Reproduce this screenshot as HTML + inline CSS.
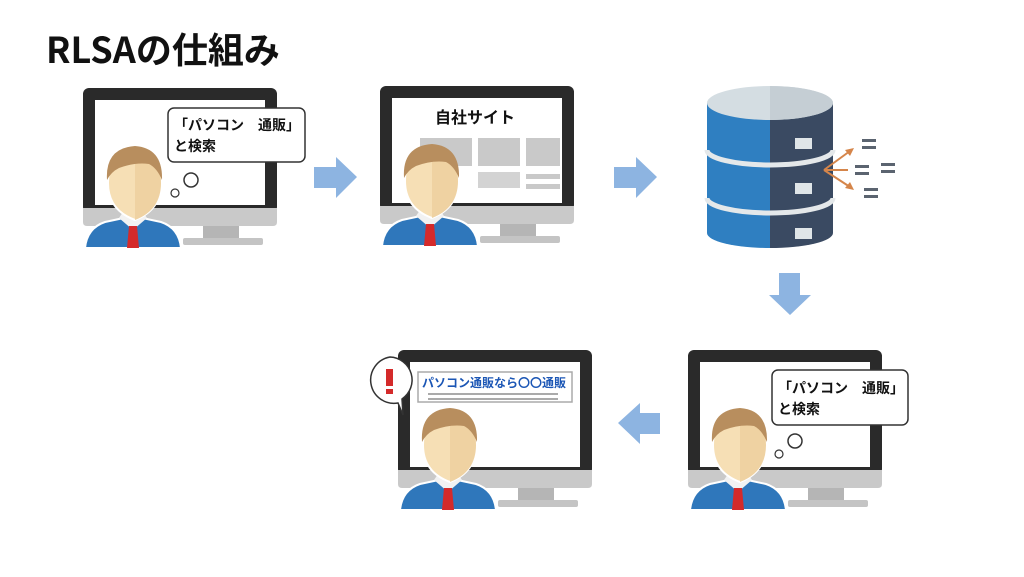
<!DOCTYPE html>
<html><head><meta charset="utf-8"><style>
html,body{margin:0;padding:0;background:#fff;width:1024px;height:577px;overflow:hidden}
svg{display:block}
text{font-family:"Noto Sans CJK JP","Liberation Sans",sans-serif;font-weight:bold}
</style></head><body>
<svg width="1024" height="577" viewBox="0 0 1024 577" xmlns="http://www.w3.org/2000/svg">
<defs>
<g id="mon">
  <rect x="0" y="0" width="194" height="125" rx="6" fill="#2a2a2a"/>
  <rect x="12" y="12" width="170" height="105" fill="#fff"/>
  <path d="M0 120 H194 V134 Q194 138 190 138 H4 Q0 138 0 134 Z" fill="#c9c9c9"/>
  <rect x="120" y="138" width="36" height="12" fill="#b5b5b5"/>
  <rect x="100" y="150" width="80" height="7" rx="2" fill="#c4c4c4"/>
</g>
<g id="person">
  <path d="M2 160 Q4 140 22 134 L50 128 L78 134 Q96 140 98 160 Z" fill="#2f77bb" stroke="#fff" stroke-width="2"/>
  <path d="M36 130 L50 142 L64 130 L60 124 H40 Z" fill="#f2f2f2"/>
  <path d="M46 138 L54 138 L56 160 L44 160 Z" fill="#d42a2a"/>
  <path d="M25 95 Q25 62 52 60 Q78 62 78 95 Q78 122 52 132 Q25 122 25 95 Z" fill="#f6dfb5" stroke="#fff" stroke-width="2"/>
  <path d="M52 132 Q78 122 78 95 Q78 62 52 60 Z" fill="#efd2a2"/>
  <path d="M24 92 Q22 60 52 58 Q80 60 79 92 Q74 80 66 76 Q52 74 36 80 Q28 84 24 92 Z" fill="#b88e5e"/>
</g>
</defs>

<text x="46" y="63" font-size="36" fill="#111">RLSAの仕組み</text>

<!-- panel 1 -->
<g transform="translate(83,88)"><use href="#mon"/></g>
<g transform="translate(83,88)"><use href="#person"/></g>
<rect x="168" y="108" width="137" height="54" rx="6" fill="#fff" stroke="#333" stroke-width="1.5"/>
<text x="174" y="130" font-size="14" fill="#111">「パソコン　通販」</text>
<text x="174" y="151" font-size="14" fill="#111">と検索</text>
<circle cx="191" cy="180" r="7" fill="#fff" stroke="#333" stroke-width="1.5"/>
<circle cx="175" cy="193" r="4" fill="#fff" stroke="#333" stroke-width="1.2"/>

<path d="M314 167 H336 V157 L357 177 L336 198 V188 H314 Z" fill="#8db4e1"/>

<!-- panel 2 -->
<g transform="translate(380,86)"><use href="#mon"/>
  <text x="55" y="37" font-size="16" fill="#111">自社サイト</text>
  <rect x="40" y="52" width="52" height="28" fill="#c9c9c9"/>
  <rect x="98" y="52" width="42" height="28" fill="#c9c9c9"/>
  <rect x="146" y="52" width="34" height="28" fill="#c9c9c9"/>
  <rect x="98" y="86" width="42" height="16" fill="#d3d3d3"/>
  <rect x="146" y="88" width="34" height="5" fill="#c9c9c9"/>
  <rect x="146" y="98" width="34" height="5" fill="#c9c9c9"/>
</g>
<g transform="translate(380,86)"><use href="#person"/></g>

<path d="M614 167 H636 V157 L657 177 L636 198 V188 H614 Z" fill="#8db4e1"/>

<!-- database -->
<g>
  <path d="M707 103 V233 A63 15 0 0 0 770 248 V103 Z" fill="#2f7fc1"/>
  <path d="M770 103 V248 A63 15 0 0 0 833 233 V103 Z" fill="#3a4a62"/>
  <ellipse cx="770" cy="103" rx="63" ry="17" fill="#d4dde2"/>
  <path d="M770 86 A63 17 0 0 1 770 120 Z" fill="#c5ced4"/>
  <path d="M707 150 A63 15 0 0 0 833 150" fill="none" stroke="#e4e8ea" stroke-width="5"/>
  <path d="M707 198 A63 15 0 0 0 833 198" fill="none" stroke="#e4e8ea" stroke-width="5"/>
  <rect x="795" y="138" width="17" height="11" fill="#dfe5e8"/>
  <rect x="795" y="183" width="17" height="11" fill="#dfe5e8"/>
  <rect x="795" y="228" width="17" height="11" fill="#dfe5e8"/>
  <g stroke="#d5854a" stroke-width="2" fill="#d5854a">
    <line x1="824" y1="170" x2="850" y2="151"/><line x1="824" y1="170" x2="848" y2="170"/><line x1="824" y1="170" x2="850" y2="187"/>
    <path d="M854 148 L845 150 L850 156 Z" stroke="none"/>
    <path d="M854 190 L845 188 L850 182 Z" stroke="none"/>
  </g>
  <g fill="#5b6470">
    <rect x="862" y="139" width="14" height="3"/><rect x="862" y="146" width="14" height="3"/>
    <rect x="855" y="165" width="14" height="3"/><rect x="855" y="172" width="14" height="3"/>
    <rect x="881" y="163" width="14" height="3"/><rect x="881" y="170" width="14" height="3"/>
    <rect x="864" y="188" width="14" height="3"/><rect x="864" y="195" width="14" height="3"/>
  </g>
</g>

<path d="M779 273 H800 V295 H811 L790 315 L769 295 H779 Z" fill="#8db4e1"/>
<path d="M660 413 H640 V403 L618 423 L640 444 V434 H660 Z" fill="#8db4e1"/>

<!-- panel 4 -->
<g transform="translate(688,350)"><use href="#mon"/></g>
<g transform="translate(688,350)"><use href="#person"/></g>
<rect x="772" y="370" width="136" height="55" rx="6" fill="#fff" stroke="#333" stroke-width="1.5"/>
<text x="778" y="393" font-size="14" fill="#111">「パソコン　通販」</text>
<text x="778" y="414" font-size="14" fill="#111">と検索</text>
<circle cx="795" cy="441" r="7" fill="#fff" stroke="#333" stroke-width="1.5"/>
<circle cx="779" cy="454" r="4" fill="#fff" stroke="#333" stroke-width="1.2"/>

<!-- panel 3 -->
<g transform="translate(398,350)"><use href="#mon"/>
  <rect x="20" y="22" width="154" height="30" fill="#fff" stroke="#aaa" stroke-width="1.5"/>
  <text x="24" y="37" font-size="12" fill="#1b56b5">パソコン通販なら〇〇通販</text>
  <rect x="30" y="43" width="130" height="2" fill="#aaa"/>
  <rect x="30" y="48" width="130" height="2" fill="#aaa"/>
</g>
<g transform="translate(398,350)"><use href="#person"/></g>
<path d="M390 357 A23 23 0 1 0 398 403 L403 415 L402 399 A23 23 0 0 0 390 357 Z" fill="#fff" stroke="#333" stroke-width="1.5"/>
<rect x="386" y="369" width="7" height="17" fill="#d42a2a"/>
<rect x="386" y="389" width="7" height="5" fill="#d42a2a"/>
</svg>
</body></html>
